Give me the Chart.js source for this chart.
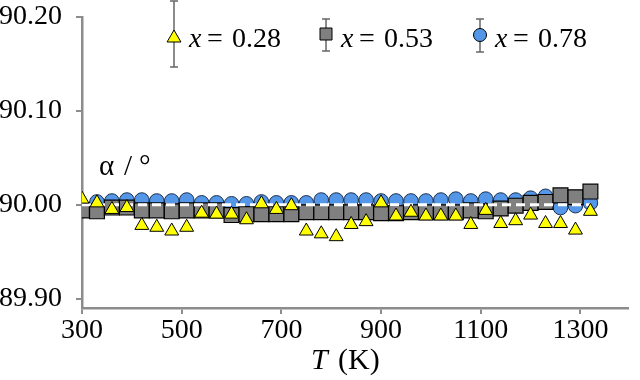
<!DOCTYPE html>
<html>
<head>
<meta charset="utf-8">
<script src="https://cdn.jsdelivr.net/npm/chart.js@4/dist/chart.umd.min.js"></script>
<style>
  html, body { margin: 0; padding: 0; background: #fff; }
</style>
</head>
<body>
<canvas id="c" width="640" height="380"></canvas>
<script>
// temperature (K)
const temps = [300, 330, 360, 390, 420, 450, 480, 510, 540, 570, 600, 630, 660, 690, 720,
  750, 780, 810, 840, 870, 900, 930, 960, 990, 1020, 1050, 1080, 1110, 1140, 1170,
  1200, 1230, 1260, 1290, 1320];

// alpha (deg) for each composition
const alpha028 = [90.006, 90.002, 89.995, 89.997, 89.978, 89.976, 89.972, 89.976, 89.991, 89.990,
  89.990, 89.984, 90.001, 89.995, 89.999, 89.972, 89.969, 89.966, 89.979, 89.982,
  90.002, 89.988, 89.992, 89.988, 89.988, 89.988, 89.979, 89.994, 89.980, 89.983,
  89.989, 89.980, 89.980, 89.973, 89.993];
const alpha053 = [89.994, 89.993, 89.997, 89.997, 89.994, 89.994, 89.993, 89.994, 89.994, 89.994,
  89.989, 89.990, 89.990, 89.990, 89.990, 89.992, 89.992, 89.992, 89.992, 89.992,
  89.991, 89.991, 89.992, 89.992, 89.992, 89.992, 89.994, 89.993, 89.996, 89.999,
  90.002, 90.003, 90.010, 90.008, 90.014];
const alpha078 = [null, 90.003, 90.004, 90.005, 90.005, 90.004, 90.004, 90.005, 90.002, 90.002,
  90.001, 90.001, 90.003, 90.002, 90.002, 90.002, 90.005, 90.005, 90.005, 90.005,
  90.004, 90.004, 90.004, 90.004, 90.005, 90.006, 90.004, 90.006, 90.005, 90.005,
  90.007, 90.009, 89.997, 89.999, 90.002];

// cubic reference line
const refT = [300, 1320];
const refAlpha = [90.00, 90.00];

const xTicks = [300, 500, 700, 900, 1100, 1300];
const yTicks = [89.9, 90.0, 90.1, 90.2];

const seriesLabels = ["0.28", "0.53", "0.78"];

const FONT = '"Liberation Serif", "Times New Roman", serif';
const AXIS = "#8c8c8c";

const toPts = (xs, ys) => xs.map((x, i) => ({ x: x, y: ys[i] }));

// titles and the legend with its error bars
const overlay = {
  id: "overlay",
  afterDraw(chart) {
    const c = chart.ctx;
    c.save();
    c.fillStyle = "#000";
    c.textBaseline = "alphabetic";

    c.font = "29px " + FONT;
    c.fillText("α", 99, 175);
    c.fillText("/", 124, 175);
    c.fillText("°", 139, 175);

    c.font = "italic 30px " + FONT;
    c.fillText("T", 311, 369);
    c.font = "30px " + FONT;
    c.fillText("(K)", 338, 369);

    const items = [
      { x: 174, y: 38, lo: 1, hi: 67, ds: 0 },
      { x: 326, y: 34, lo: 19, hi: 51, ds: 1 },
      { x: 480, y: 35, lo: 19, hi: 52, ds: 2 },
    ];
    items.forEach((it, i) => {
      const ds = chart.data.datasets[it.ds];
      c.strokeStyle = "#666";
      c.lineWidth = 1.5;
      c.beginPath();
      c.moveTo(it.x, it.lo); c.lineTo(it.x, it.hi);
      c.moveTo(it.x - 4, it.lo); c.lineTo(it.x + 4, it.lo);
      c.moveTo(it.x - 4, it.hi); c.lineTo(it.x + 4, it.hi);
      c.stroke();

      c.fillStyle = ds.backgroundColor;
      c.strokeStyle = "#000";
      c.lineWidth = 1;
      c.beginPath();
      if (ds.pointStyle === "triangle") {
        const r = 8;
        c.moveTo(it.x, it.y - r);
        c.lineTo(it.x + r * 0.866, it.y + r / 2);
        c.lineTo(it.x - r * 0.866, it.y + r / 2);
        c.closePath();
      } else if (ds.pointStyle === "rect") {
        c.rect(it.x - 6, it.y - 6, 12, 12);
      } else {
        c.arc(it.x, it.y, 6.5, 0, Math.PI * 2);
      }
      c.fill();
      c.stroke();

      c.fillStyle = "#000";
      const tx = it.x + 15;
      c.font = "italic 28px " + FONT;
      c.fillText("x", tx, 47);
      c.font = "28px " + FONT;
      c.fillText("=", tx + 18, 47);
      c.fillText(seriesLabels[i], tx + 43, 47);
    });
    c.restore();
  },
};

new Chart(document.getElementById("c"), {
  type: "scatter",
  data: {
    datasets: [
      {
        label: "x = 0.28",
        data: toPts(temps, alpha028),
        pointStyle: "triangle",
        pointRadius: 8,
        backgroundColor: "#ffff00",
        borderColor: "#000",
        borderWidth: 1,
        order: 0,
      },
      {
        label: "x = 0.53",
        data: toPts(temps, alpha053),
        pointStyle: "rect",
        pointRadius: 10.5,
        backgroundColor: "#808080",
        borderColor: "#000",
        borderWidth: 1.2,
        order: 2,
      },
      {
        label: "x = 0.78",
        data: toPts(temps, alpha078),
        pointStyle: "circle",
        pointRadius: 7.3,
        backgroundColor: "#5497e8",
        borderColor: "#1b2f4d",
        borderWidth: 1,
        order: 3,
      },
      {
        label: "ref",
        data: toPts(refT, refAlpha),
        showLine: true,
        pointRadius: 0,
        borderColor: "#ffffff",
        borderWidth: 3,
        borderDash: [9, 5],
        order: 1,
      },
    ],
  },
  options: {
    responsive: false,
    animation: false,
    devicePixelRatio: 1,
    layout: { padding: { top: 17, right: 0, bottom: 0, left: 0 } },
    plugins: {
      legend: { display: false },
      tooltip: { enabled: false },
    },
    scales: {
      x: {
        type: "linear",
        min: 300,
        max: 1396,
        afterBuildTicks: (s) => { s.ticks = xTicks.map((v) => ({ value: v })); },
        afterFit: (s) => { s.height = 72; s.paddingLeft = 0; s.paddingRight = 0; },
        ticks: {
          font: { family: FONT, size: 28 },
          color: "#000",
          padding: 0,
          maxRotation: 0,
          autoSkip: false,
          callback: (v) => String(v),
        },
        grid: { drawOnChartArea: false, tickLength: 6, color: AXIS, lineWidth: 2 },
        border: { color: AXIS, width: 2.5 },
      },
      y: {
        min: 89.89,
        max: 90.2,
        afterBuildTicks: (s) => { s.ticks = yTicks.map((v) => ({ value: v })); },
        afterFit: (s) => { s.width = 82; s.paddingTop = 0; s.paddingBottom = 0; },
        ticks: {
          font: { family: FONT, size: 28 },
          color: "#000",
          padding: 14,
          callback: (v) => Number(v).toFixed(2),
        },
        grid: { drawOnChartArea: false, tickLength: 6, color: AXIS, lineWidth: 2 },
        border: { color: AXIS, width: 2.5 },
      },
    },
  },
  plugins: [overlay],
});
</script>
</body>
</html>
